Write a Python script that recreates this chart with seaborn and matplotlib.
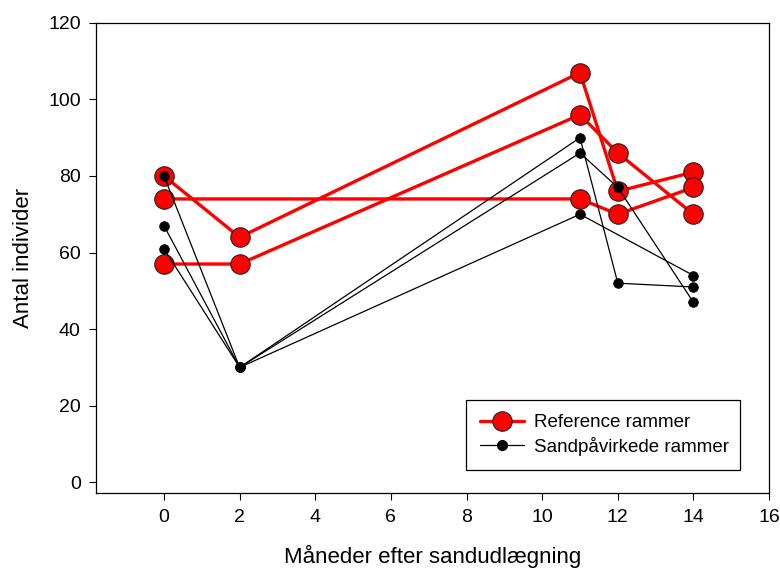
import numpy as np
import pandas as pd
import matplotlib
matplotlib.use("Agg")
import matplotlib.pyplot as plt
import seaborn as sns
from matplotlib.lines import Line2D

months = [0, 2, 11, 12, 14]
nan = np.nan
ref_1 = [80, 64, 107, 76, 81]
ref_2 = [74, nan, 74, 70, 77]
ref_3 = [57, 57, 96, 86, 70]
sand_1 = [80, 30, 90, 52, 51]
sand_2 = [67, 30, 86, 77, 47]
sand_3 = [61, 30, 70, nan, 54]

label_ref = "Reference rammer"
label_sand = "Sandpåvirkede rammer"
xlabel = "Måneder efter sandudlægning"
ylabel = "Antal individer"

def long_df(series):
    rows = []
    for i, s in enumerate(series):
        for x, y in zip(months, s):
            rows.append({"unit": i, "x": x, "y": y})
    return pd.DataFrame(rows).dropna()

df_ref = long_df([ref_1, ref_2, ref_3])
df_sand = long_df([sand_1, sand_2, sand_3])

sns.set_theme(style="white")
plt.rcParams["font.family"] = ["Liberation Sans", "DejaVu Sans"]
plt.rcParams["text.color"] = "black"
plt.rcParams["axes.labelcolor"] = "black"
plt.rcParams["xtick.color"] = "black"
plt.rcParams["ytick.color"] = "black"

fig = plt.figure(figsize=(7.8, 5.71), dpi=100)
ax = fig.add_axes([0.123, 0.136, 0.863, 0.824])

sns.lineplot(data=df_ref, x="x", y="y", units="unit", estimator=None, ax=ax,
             color="#ff0000", linewidth=2.4, marker="o", markersize=14,
             markeredgecolor="#222222", markeredgewidth=0.8, sort=False, zorder=2)
sns.lineplot(data=df_sand, x="x", y="y", units="unit", estimator=None, ax=ax,
             color="black", linewidth=0.9, marker="o", markersize=7,
             markeredgecolor="black", markeredgewidth=0.5, sort=False, zorder=3)

ax.set_xlim(-1.8, 16)
ax.set_ylim(-2.9, 120)
ax.set_xticks(range(0, 17, 2))
ax.set_yticks(range(0, 121, 20))
ax.tick_params(axis="both", direction="out", length=5, width=0.8, color="black",
               labelcolor="black", labelsize=14, bottom=True, left=True, pad=6)
for sp in ax.spines.values():
    sp.set_color("black")
    sp.set_linewidth(0.9)
    sp.set_visible(True)

ax.set_xlabel(xlabel, fontsize=16, labelpad=14, color="black")
ax.set_ylabel(ylabel, fontsize=16, labelpad=10, color="black")

handles = [
    Line2D([], [], color="#ff0000", linewidth=2.4, marker="o", markersize=14,
           markeredgecolor="#222222", markeredgewidth=0.8),
    Line2D([], [], color="black", linewidth=0.9, marker="o", markersize=7),
]
leg = ax.legend(handles, [label_ref, label_sand], loc="lower left",
                bbox_to_anchor=(0.55, 0.0495, 0.407, 0.155), mode="expand",
                borderaxespad=0,
                fontsize=13.5, frameon=True, fancybox=False, framealpha=1,
                edgecolor="black", handlelength=2.35, handletextpad=0.5,
                borderpad=0.75, labelspacing=0.3)
leg.get_frame().set_linewidth(0.9)
for t in leg.get_texts():
    t.set_color("black")

fig.savefig("out.png", dpi=100)
